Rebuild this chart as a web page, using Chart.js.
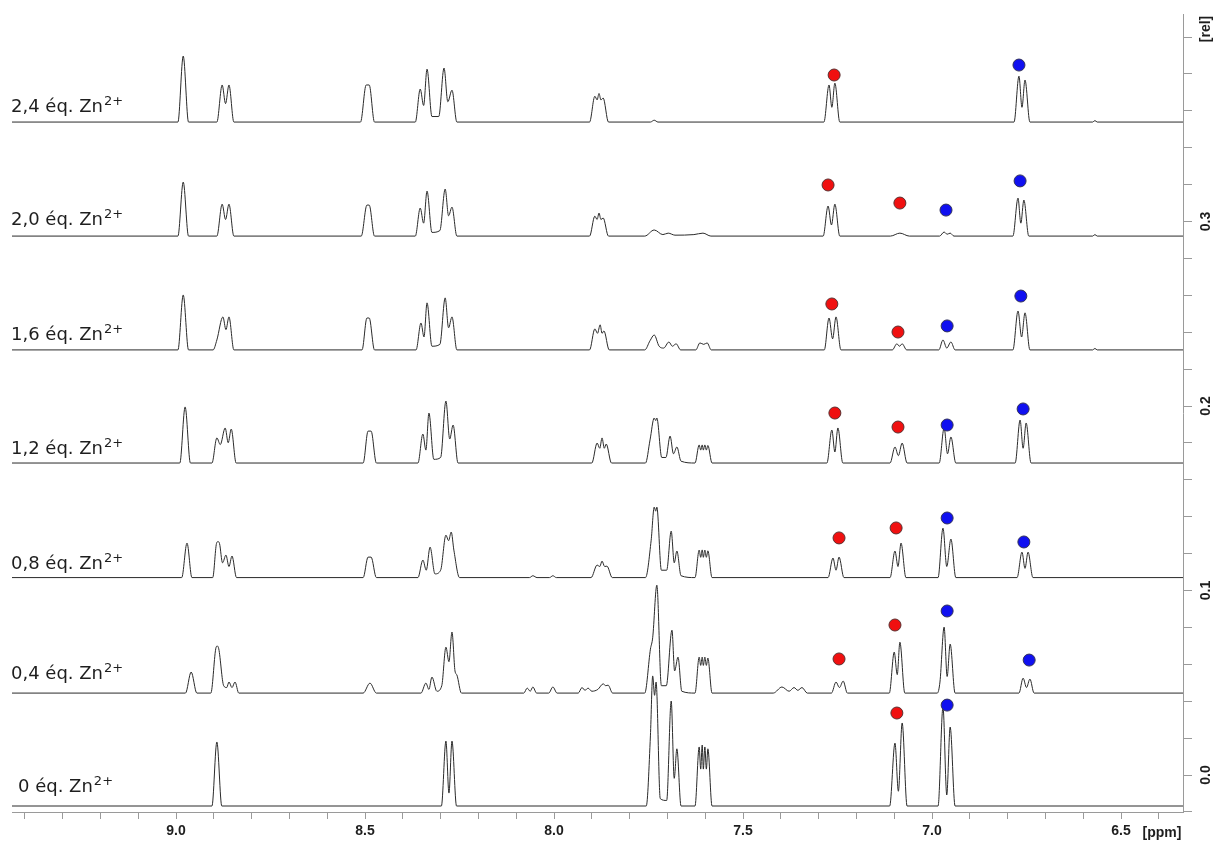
<!DOCTYPE html>
<html>
<head>
<meta charset="utf-8">
<script src="https://cdn.jsdelivr.net/npm/chart.js@4.4.1/dist/chart.umd.min.js"></script>
<style>
  html, body { margin: 0; padding: 0; background: #fff; }
  canvas { display: block; }
</style>
</head>
<body>
<canvas id="nmr" width="1215" height="843"></canvas>
<script>
// Zn2+ titration, 1H NMR stack. Each spectrum: [ppm, intensity above its own baseline]
const traceNames = ['0', '0,4', '0,8', '1,2', '1,6', '2,0', '2,4'];
const offsets = [-0.0168, 0.0444, 0.1070, 0.1691, 0.2304, 0.2921, 0.3539];

const spec0 = [
  [8.905, 0], [8.892, 0.0347], [8.879, 0],
  [8.298, 0], [8.286, 0.0352], [8.278, 0.007], [8.270, 0.0352], [8.258, 0],
  [7.756, 0], [7.745, 0.038], [7.739, 0.0705], [7.734, 0.060], [7.730, 0.0672], [7.719, 0.004], [7.702, 0.003],
  [7.690, 0.0569], [7.682, 0.015], [7.675, 0.031], [7.664, 0],
  [7.627, 0], [7.616, 0.032], [7.612, 0.020], [7.608, 0.033], [7.605, 0.020], [7.601, 0.032], [7.597, 0.020], [7.593, 0.031], [7.582, 0],
  [7.112, 0], [7.098, 0.0341], [7.089, 0.008], [7.079, 0.045], [7.066, 0],
  [6.984, 0], [6.971, 0.0537], [6.961, 0.006], [6.952, 0.0428], [6.939, 0]
];
const spec04 = [
  [8.975, 0], [8.960, 0.0114], [8.945, 0],
  [8.908, 0], [8.895, 0.024], [8.891, 0.0255], [8.887, 0.024], [8.874, 0.004], [8.866, 0.003], [8.860, 0.006], [8.852, 0.003], [8.844, 0.006], [8.834, 0],
  [8.505, 0], [8.487, 0.0054], [8.470, 0],
  [8.352, 0], [8.339, 0.0054], [8.331, 0.002], [8.323, 0.0087], [8.310, 0.001], [8.297, 0.004], [8.286, 0.0249], [8.278, 0.017],
  [8.270, 0.0331], [8.262, 0.012], [8.257, 0.0098], [8.245, 0],
  [8.080, 0], [8.071, 0.0027], [8.063, 0.001], [8.056, 0.0033], [8.046, 0],
  [8.014, 0], [8.003, 0.0033], [7.992, 0],
  [7.936, 0], [7.926, 0.003], [7.918, 0.0015], [7.910, 0.0027], [7.900, 0.001], [7.884, 0.002], [7.870, 0.005], [7.863, 0.004], [7.857, 0.0043], [7.845, 0],
  [7.760, 0], [7.745, 0.0238], [7.739, 0.030], [7.728, 0.0585], [7.716, 0.004], [7.703, 0.004], [7.688, 0.0341], [7.681, 0.012], [7.672, 0.0195], [7.662, 0.001],
  [7.627, 0], [7.616, 0.0195], [7.612, 0.015], [7.608, 0.0195], [7.605, 0.015], [7.601, 0.0195], [7.597, 0.015], [7.593, 0.019], [7.582, 0],
  [7.420, 0], [7.397, 0.0033], [7.378, 0.001], [7.365, 0.003], [7.355, 0.0015], [7.344, 0.003], [7.330, 0],
  [7.266, 0], [7.254, 0.006], [7.245, 0.003], [7.235, 0.0065], [7.224, 0],
  [7.113, 0], [7.100, 0.0222], [7.092, 0.010], [7.085, 0.0276], [7.072, 0],
  [6.986, 0], [6.979, 0.006], [6.968, 0.0358], [6.960, 0.009], [6.952, 0.0266], [6.939, 0],
  [6.770, 0], [6.759, 0.0081], [6.750, 0.003], [6.741, 0.0076], [6.730, 0]
];
const spec08 = [
  [8.985, 0], [8.971, 0.0187], [8.958, 0],
  [8.903, 0], [8.893, 0.0185], [8.889, 0.0195], [8.885, 0.0185], [8.877, 0.008], [8.868, 0.0122], [8.860, 0.006], [8.852, 0.0117], [8.840, 0],
  [8.505, 0], [8.492, 0.0111], [8.484, 0.0111], [8.470, 0],
  [8.360, 0], [8.347, 0.0095], [8.338, 0.004], [8.328, 0.0165], [8.315, 0.002], [8.300, 0.004], [8.286, 0.023], [8.279, 0.020],
  [8.272, 0.0247], [8.265, 0.0149], [8.250, 0],
  [8.065, 0], [8.056, 0.001], [8.045, 0], [8.012, 0], [8.003, 0.001], [7.994, 0],
  [7.902, 0], [7.886, 0.0068], [7.879, 0.006], [7.873, 0.0089], [7.866, 0.006], [7.860, 0.0062], [7.846, 0],
  [7.758, 0], [7.743, 0.0203], [7.735, 0.0382], [7.731, 0.036], [7.728, 0.0382], [7.716, 0.004], [7.702, 0.004],
  [7.690, 0.0252], [7.682, 0.008], [7.675, 0.0144], [7.664, 0.001],
  [7.627, 0], [7.616, 0.0149], [7.612, 0.011], [7.608, 0.015], [7.605, 0.011], [7.601, 0.0149], [7.597, 0.011], [7.593, 0.0145], [7.582, 0],
  [7.275, 0], [7.262, 0.0106], [7.254, 0.004], [7.246, 0.0111], [7.233, 0],
  [7.111, 0], [7.098, 0.0144], [7.090, 0.006], [7.082, 0.0187], [7.069, 0],
  [6.984, 0], [6.971, 0.0268], [6.961, 0.006], [6.950, 0.0209], [6.937, 0],
  [6.775, 0], [6.762, 0.0138], [6.754, 0.005], [6.746, 0.0138], [6.733, 0]
];
const spec12 = [
  [8.990, 0], [8.976, 0.0304], [8.962, 0],
  [8.905, 0], [8.892, 0.0136], [8.883, 0.010], [8.870, 0.019], [8.862, 0.011], [8.854, 0.0184], [8.841, 0],
  [8.505, 0], [8.492, 0.0173], [8.484, 0.0173], [8.470, 0],
  [8.360, 0], [8.347, 0.0157], [8.339, 0.007], [8.331, 0.0271], [8.318, 0.002], [8.300, 0.003], [8.286, 0.0336], [8.276, 0.013],
  [8.267, 0.0206], [8.254, 0],
  [7.900, 0], [7.886, 0.0108], [7.879, 0.008], [7.873, 0.0136], [7.867, 0.008], [7.862, 0.0103], [7.848, 0],
  [7.758, 0], [7.746, 0.0125], [7.735, 0.0244], [7.731, 0.023], [7.728, 0.0244], [7.715, 0.003], [7.704, 0.003],
  [7.693, 0.0146], [7.684, 0.005], [7.675, 0.0087], [7.664, 0.001],
  [7.627, 0], [7.616, 0.0098], [7.612, 0.007], [7.608, 0.0098], [7.605, 0.007], [7.601, 0.0098], [7.597, 0.007], [7.593, 0.0095], [7.582, 0],
  [7.278, 0], [7.265, 0.0179], [7.257, 0.006], [7.249, 0.019], [7.236, 0],
  [7.111, 0], [7.098, 0.0087], [7.089, 0.004], [7.079, 0.0108], [7.066, 0],
  [6.981, 0], [6.968, 0.019], [6.959, 0.005], [6.950, 0.0141], [6.937, 0],
  [6.780, 0], [6.767, 0.0233], [6.759, 0.008], [6.751, 0.0217], [6.738, 0]
];
const spec16 = [
  [8.995, 0], [8.981, 0.0298], [8.967, 0],
  [8.902, 0], [8.892, 0.0054], [8.876, 0.0179], [8.868, 0.011], [8.860, 0.0179], [8.847, 0],
  [8.508, 0], [8.495, 0.0173], [8.489, 0.0173], [8.475, 0],
  [8.365, 0], [8.352, 0.0146], [8.344, 0.007], [8.336, 0.0255], [8.323, 0.002], [8.302, 0.003], [8.288, 0.0282], [8.279, 0.012],
  [8.270, 0.0179], [8.257, 0],
  [7.906, 0], [7.892, 0.0114], [7.885, 0.009], [7.878, 0.0136], [7.873, 0.009], [7.868, 0.0103], [7.854, 0],
  [7.760, 0], [7.746, 0.005], [7.735, 0.0081], [7.722, 0.002], [7.710, 0.001], [7.696, 0.0043], [7.687, 0.002], [7.677, 0.0033], [7.665, 0],
  [7.625, 0], [7.614, 0.0038], [7.604, 0.003], [7.595, 0.0038], [7.584, 0],
  [7.285, 0], [7.2725, 0.0173], [7.263, 0.006], [7.254, 0.0179], [7.241, 0],
  [7.105, 0], [7.093, 0.0033], [7.086, 0.002], [7.079, 0.0033], [7.067, 0],
  [6.982, 0], [6.971, 0.0054], [6.961, 0.001], [6.950, 0.0043], [6.939, 0],
  [6.786, 0], [6.7725, 0.0211], [6.763, 0.007], [6.754, 0.0201], [6.741, 0],
  [6.575, 0], [6.569, 0.0008], [6.563, 0]
];
const spec20 = [
  [8.995, 0], [8.981, 0.0293], [8.967, 0],
  [8.892, 0], [8.878, 0.0173], [8.869, 0.009], [8.860, 0.0173], [8.847, 0],
  [8.510, 0], [8.495, 0.0168], [8.489, 0.0168], [8.475, 0],
  [8.367, 0], [8.354, 0.0152], [8.345, 0.007], [8.336, 0.0244], [8.323, 0.002], [8.302, 0.003], [8.288, 0.0255], [8.279, 0.011],
  [8.270, 0.0157], [8.257, 0],
  [7.906, 0], [7.892, 0.0108], [7.886, 0.009], [7.881, 0.0125], [7.876, 0.009], [7.870, 0.0098], [7.856, 0],
  [7.760, 0], [7.735, 0.0033], [7.712, 0.0008], [7.698, 0.0016], [7.680, 0.0005], [7.630, 0.0008], [7.606, 0.0016], [7.585, 0],
  [7.288, 0], [7.275, 0.0163], [7.266, 0.006], [7.257, 0.0173], [7.244, 0],
  [7.110, 0], [7.085, 0.0016], [7.060, 0],
  [6.980, 0], [6.968, 0.0022], [6.960, 0.001], [6.952, 0.0016], [6.942, 0],
  [6.786, 0], [6.7725, 0.0206], [6.765, 0.007], [6.757, 0.0195], [6.744, 0],
  [6.575, 0], [6.569, 0.0008], [6.563, 0]
];
const spec24 = [
  [8.995, 0], [8.981, 0.0358], [8.967, 0],
  [8.892, 0], [8.878, 0.0201], [8.869, 0.010], [8.860, 0.0201], [8.847, 0],
  [8.512, 0], [8.497, 0.0201], [8.489, 0.0201], [8.475, 0],
  [8.367, 0], [8.354, 0.0179], [8.345, 0.009], [8.336, 0.0287], [8.323, 0.003], [8.305, 0.003], [8.291, 0.0293], [8.281, 0.011],
  [8.270, 0.0173], [8.257, 0],
  [7.906, 0], [7.892, 0.014], [7.886, 0.012], [7.881, 0.0155], [7.876, 0.012], [7.870, 0.013], [7.856, 0],
  [7.745, 0], [7.735, 0.001], [7.725, 0],
  [7.286, 0], [7.2725, 0.0201], [7.265, 0.008], [7.257, 0.0211], [7.244, 0],
  [6.783, 0], [6.770, 0.0249], [6.762, 0.008], [6.754, 0.0228], [6.741, 0],
  [6.575, 0], [6.569, 0.0008], [6.563, 0]
];
const spectra = [spec0, spec04, spec08, spec12, spec16, spec20, spec24];

// assignment markers [ppm, rel]
const redMarks = [
  [7.259, 0.3794], [7.275, 0.3198], [7.085, 0.3100], [7.265, 0.2553], [7.090, 0.2401], [7.257, 0.1962],
  [7.090, 0.1886], [7.246, 0.1285], [7.095, 0.1339], [7.246, 0.0629], [7.098, 0.0813], [7.093, 0.0336]
];
const blueMarks = [
  [6.770, 0.3848], [6.963, 0.3062], [6.767, 0.3220], [6.960, 0.2434], [6.765, 0.2596], [6.960, 0.1897],
  [6.759, 0.1984], [6.960, 0.1393], [6.757, 0.1263], [6.960, 0.0889], [6.743, 0.0623], [6.960, 0.0379]
];

const xMajor = [9.0, 8.5, 8.0, 7.5, 7.0, 6.5];
const yMajor = [0.0, 0.1, 0.2, 0.3];

const X_MIN = 6.336, X_MAX = 9.434;
const Y_MIN = -0.02005, Y_MAX = 0.41247;
const labelX = [18, 11, 11, 11, 11, 11, 11];
const labelDy = [14, 14, 9, 9, 10, 11, 10];

const datasets = spectra.map((s, i) => ({
  data: [[X_MAX, 0]].concat(s, [[X_MIN, 0]]).map(p => ({ x: p[0], y: p[1] + offsets[i] })),
  borderColor: '#2a2a2a',
  borderWidth: 1,
  pointRadius: 0,
  cubicInterpolationMode: 'monotone',
  order: 1
}));
datasets.push({
  data: redMarks.map(p => ({ x: p[0], y: p[1] })),
  showLine: false, pointRadius: 6, pointBackgroundColor: '#f01010',
  pointBorderColor: '#5a3030', pointBorderWidth: 1, order: -1
});
datasets.push({
  data: blueMarks.map(p => ({ x: p[0], y: p[1] })),
  showLine: false, pointRadius: 6, pointBackgroundColor: '#1010f0',
  pointBorderColor: '#30305a', pointBorderWidth: 1, order: -1
});

const isMajor = (v, list) => list.some(m => Math.abs(m - v) < 1e-6);

const overlay = {
  id: 'overlay',
  afterDraw(chart) {
    const ctx = chart.ctx, xs = chart.scales.x, ys = chart.scales.y;
    ctx.save();
    ctx.fillStyle = '#1e1e1e';
    traceNames.forEach((t, i) => {
      const y = ys.getPixelForValue(offsets[i]) - labelDy[i];
      const main = t + ' éq. Zn';
      ctx.font = '18px "DejaVu Sans"';
      ctx.textAlign = 'left';
      ctx.textBaseline = 'alphabetic';
      ctx.fillText(main, labelX[i], y);
      const w = ctx.measureText(main).width;
      ctx.font = '13px "DejaVu Sans"';
      ctx.fillText('2+', labelX[i] + w + 1, y - 7);
    });
    ctx.font = 'bold 14px "Liberation Sans", Arial, sans-serif';
    ctx.textAlign = 'center';
    ctx.textBaseline = 'middle';
    yMajor.forEach(v => {
      ctx.save();
      ctx.translate(ys.left + 23, ys.getPixelForValue(v));
      ctx.rotate(-Math.PI / 2);
      ctx.fillText(v.toFixed(1), 0, 0);
      ctx.restore();
    });
    ctx.save();
    ctx.translate(ys.left + 23, chart.chartArea.top + 15);
    ctx.rotate(-Math.PI / 2);
    ctx.fillText('[rel]', 0, 0);
    ctx.restore();
    ctx.fillText('[ppm]', xs.getPixelForValue(6.5) + 41, xs.top + 21);
    ctx.restore();
  }
};

new Chart(document.getElementById('nmr'), {
  type: 'line',
  data: { datasets },
  plugins: [overlay],
  options: {
    responsive: false,
    animation: false,
    layout: { padding: { left: 12, top: 14, right: 0, bottom: 0 } },
    plugins: { legend: { display: false }, tooltip: { enabled: false } },
    scales: {
      x: {
        type: 'linear',
        reverse: true,
        min: X_MIN,
        max: X_MAX,
        afterFit: s => { s.height = 31; },
        grid: { drawOnChartArea: false, tickLength: 7, color: '#9a9a9a' },
        border: { color: '#9a9a9a' },
        ticks: {
          stepSize: 0.1,
          includeBounds: false,
          autoSkip: false,
          maxRotation: 0,
          padding: 4,
          color: '#1e1e1e',
          font: { family: '"Liberation Sans", Arial, sans-serif', size: 14, weight: 'bold' },
          callback: v => isMajor(v, xMajor) ? v.toFixed(1) : ''
        }
      },
      y: {
        type: 'linear',
        position: 'right',
        min: Y_MIN,
        max: Y_MAX,
        afterFit: s => { s.width = 32; },
        grid: { drawOnChartArea: false, tickLength: 9, color: '#9a9a9a' },
        border: { color: '#9a9a9a' },
        ticks: { stepSize: 0.02, includeBounds: false, display: false }
      }
    }
  }
});
</script>
</body>
</html>
